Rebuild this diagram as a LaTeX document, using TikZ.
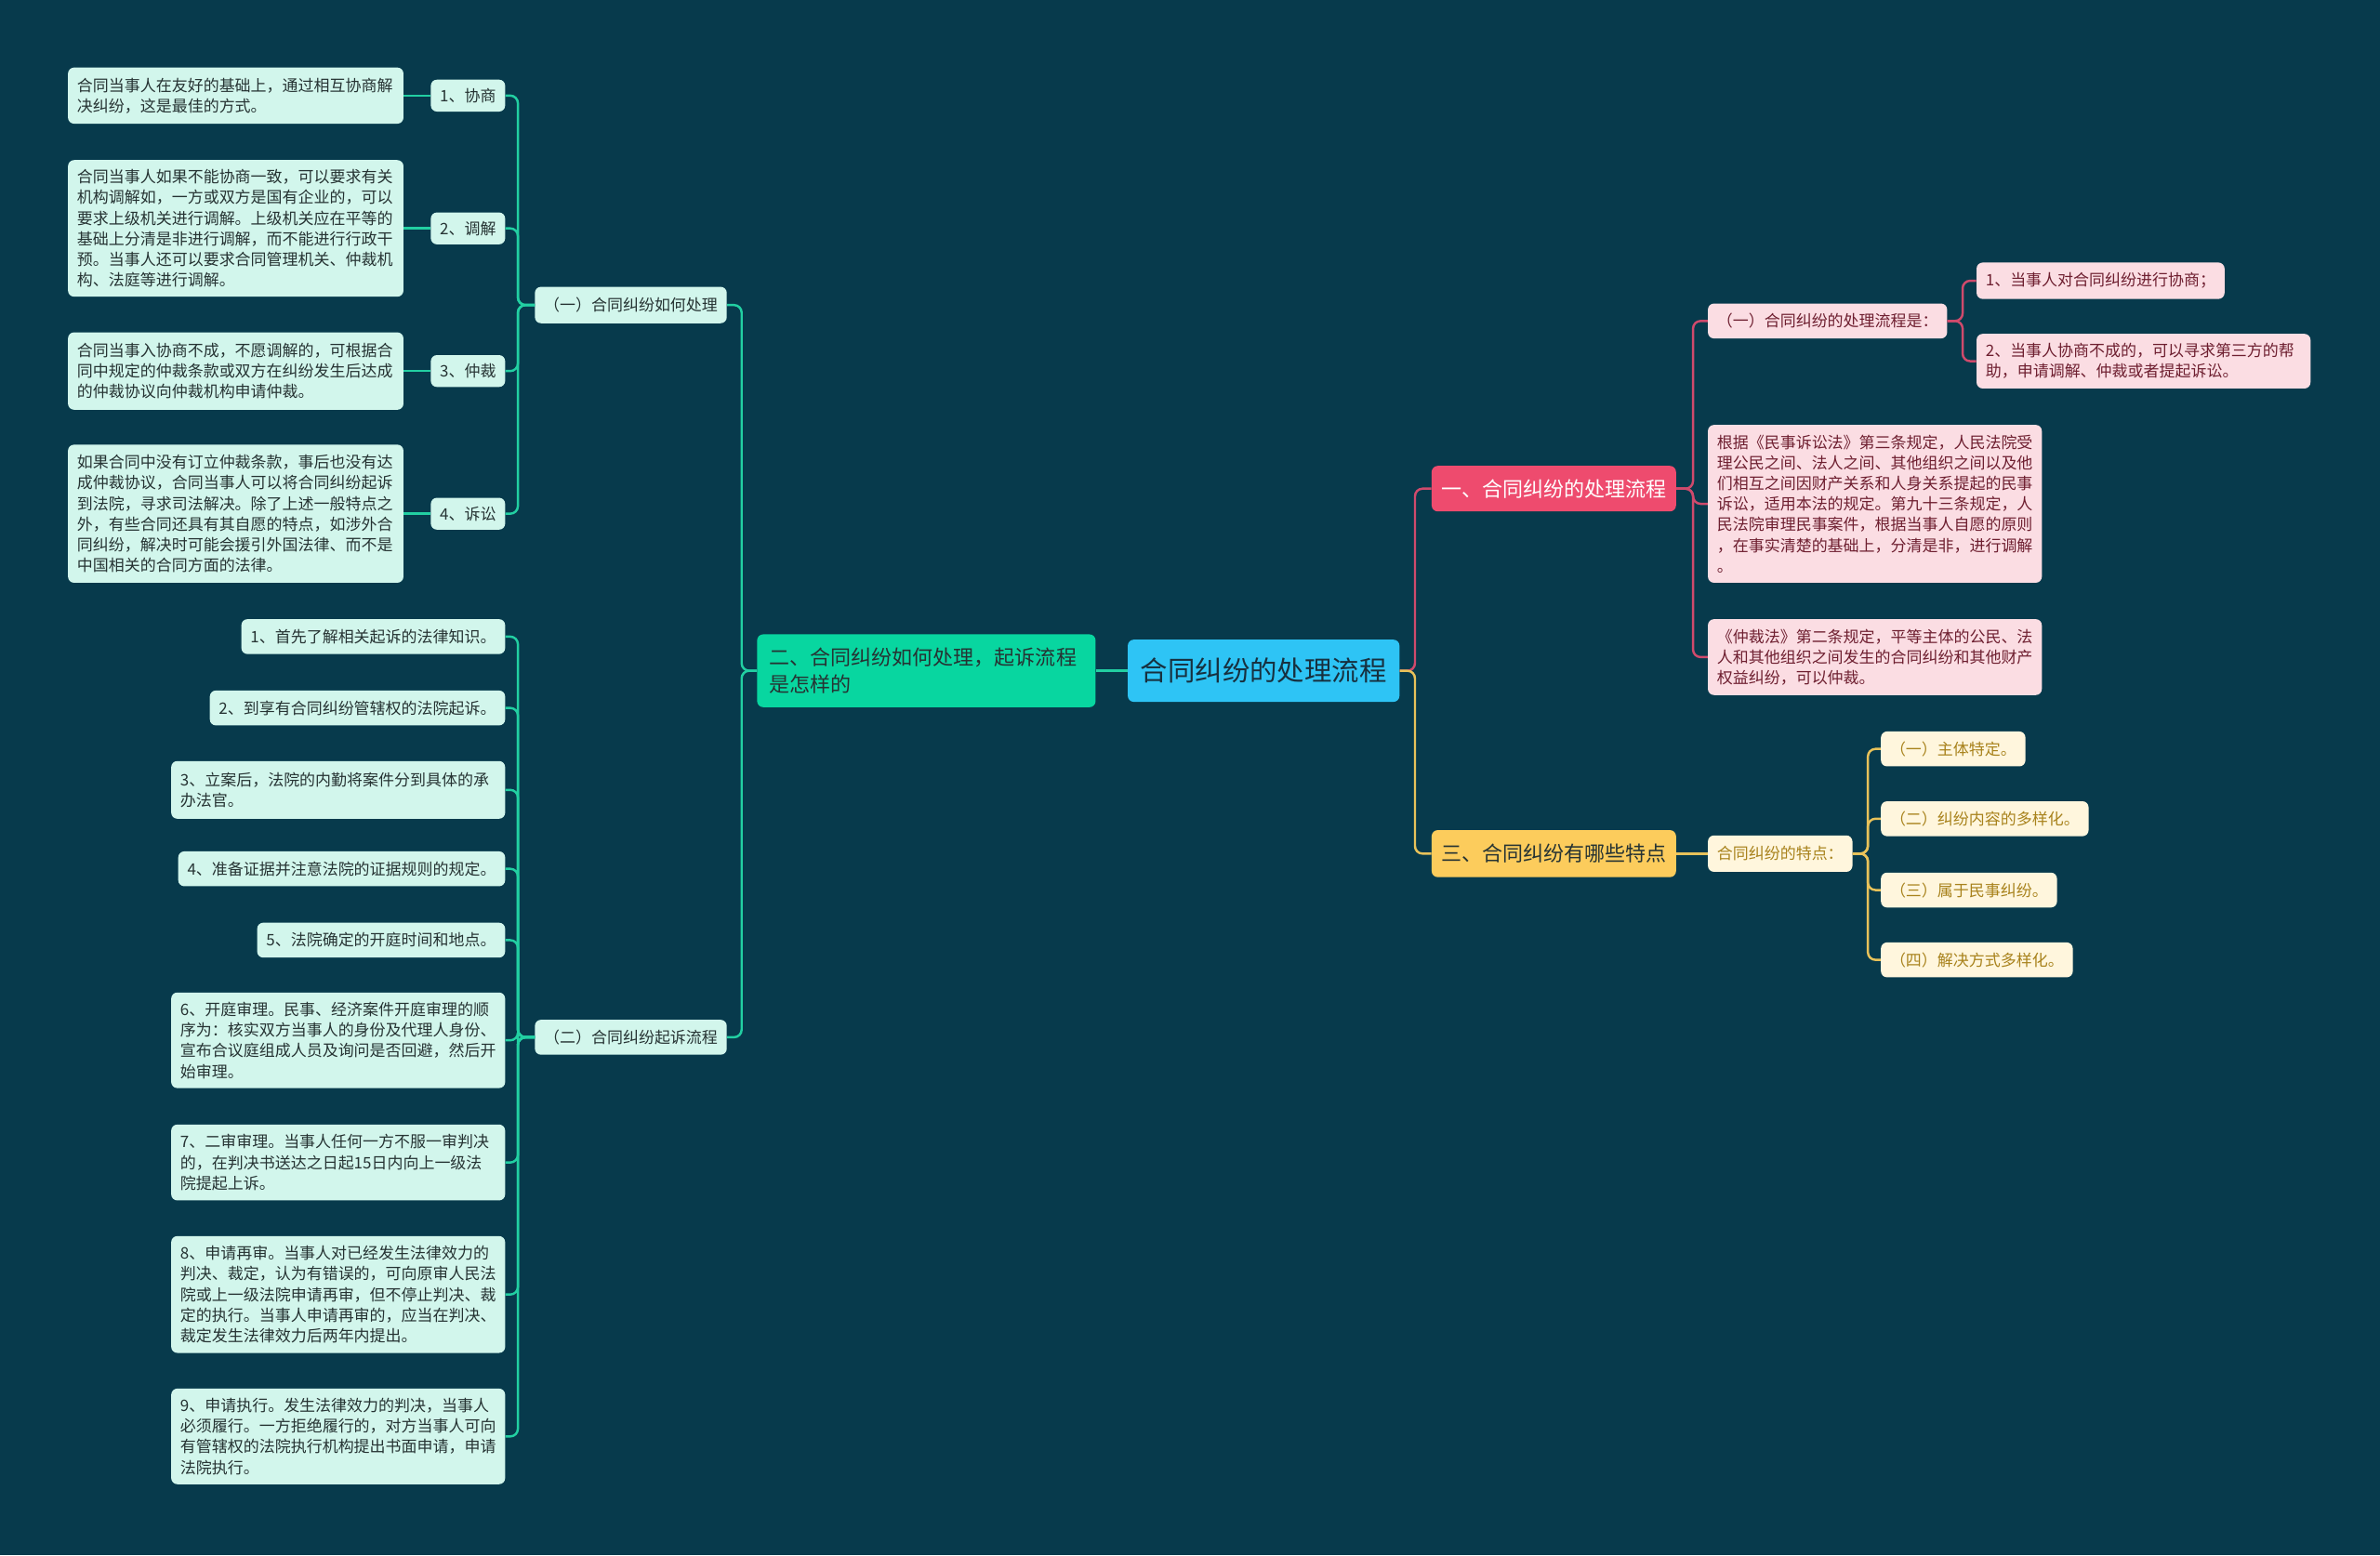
\documentclass[tikz,border=0pt]{standalone}
\usepackage{fontspec}
\setmainfont{Noto Sans CJK SC}
\definecolor{bg}{HTML}{073A4C}
\definecolor{gl}{HTML}{22CFA2}
\definecolor{mint}{HTML}{D2F6EC}
\definecolor{gtext}{HTML}{263333}
\definecolor{gbranch}{HTML}{08D6A0}
\definecolor{cfill}{HTML}{2EC4F5}
\definecolor{ctext}{HTML}{17303F}
\definecolor{pbranch}{HTML}{EE4B6E}
\definecolor{pl}{HTML}{D04A6C}
\definecolor{pinkl}{HTML}{FBDDE3}
\definecolor{ptext}{HTML}{6E1F30}
\definecolor{ybranch}{HTML}{FCCC5C}
\definecolor{yl}{HTML}{E8C25A}
\definecolor{cream}{HTML}{FFF6DD}
\definecolor{ytext}{HTML}{A8821C}
\tikzset{
  base/.style={rounded corners=4pt, inner xsep=6pt, inner ysep=0pt, align=left},
  smallfont/.style={font=\fontsize{10.4}{13.6}\selectfont},
  gleaf/.style={base, smallfont, fill=mint, text=gtext},
  pleaf/.style={base, smallfont, fill=pinkl, text=ptext},
  yleaf/.style={base, smallfont, fill=cream, text=ytext},
  gline/.style={draw=gl, line width=1.5pt, rounded corners=5pt},
  pline/.style={draw=pl, line width=1.5pt, rounded corners=5pt},
  yline/.style={draw=yl, line width=1.5pt, rounded corners=5pt},
}
\begin{document}
\begin{tikzpicture}[x=1pt,y=-1pt]
\fill[bg] (0,0) rectangle (1568,1025);
\useasboundingbox (0,0) rectangle (1568,1025);

% centre
\node[base, fill=cfill, text=ctext, font=\fontsize{18}{22}\selectfont, minimum width=179pt, minimum height=41pt, align=center] (c) at (832.5,442) {合同纠纷的处理流程};

% branch two (left, green)
\node[base, fill=gbranch, text=gtext, font=\fontsize{13.5}{18}\selectfont, text width=207pt, inner xsep=8pt, minimum height=48pt, anchor=east] (b2) at (722,442) {二、合同纠纷如何处理，起诉流程\\是怎样的};

\node[gleaf, minimum width=125pt, minimum height=24pt, anchor=east, align=center] (g1) at (479,201) {（一）合同纠纷如何处理};
\node[gleaf, minimum width=125pt, minimum height=23pt, anchor=east, align=center] (g2) at (479,683.5) {（二）合同纠纷起诉流程};

% labels under g1
\node[gleaf, minimum width=47pt, minimum height=21pt, anchor=east, align=center] (lab1) at (333,63) {1、协商};
\node[gleaf, minimum width=47pt, minimum height=21pt, anchor=east, align=center] (lab2) at (333,150.5) {2、调解};
\node[gleaf, minimum width=47pt, minimum height=21pt, anchor=east, align=center] (lab3) at (333,244.5) {3、仲裁};
\node[gleaf, minimum width=47pt, minimum height=21pt, anchor=east, align=center] (lab4) at (333,338.5) {4、诉讼};

% leaves under labels
\node[gleaf, text width=209pt, minimum height=37pt, anchor=east] (leaf1) at (266,63) {合同当事人在友好的基础上，通过相互协商解\\决纠纷，这是最佳的方式。};
\node[gleaf, text width=209pt, minimum height=90pt, anchor=east] (leaf2) at (266,150.5) {合同当事人如果不能协商一致，可以要求有关\\机构调解如，一方或双方是国有企业的，可以\\要求上级机关进行调解。上级机关应在平等的\\基础上分清是非进行调解，而不能进行行政干\\预。当事人还可以要求合同管理机关、仲裁机\\构、法庭等进行调解。};
\node[gleaf, text width=209pt, minimum height=51pt, anchor=east] (leaf3) at (266,244.5) {合同当事入协商不成，不愿调解的，可根据合\\同中规定的仲裁条款或双方在纠纷发生后达成\\的仲裁协议向仲裁机构申请仲裁。};
\node[gleaf, text width=209pt, minimum height=91pt, anchor=east] (leaf4) at (266,338.5) {如果合同中没有订立仲裁条款，事后也没有达\\成仲裁协议，合同当事人可以将合同纠纷起诉\\到法院，寻求司法解决。除了上述一般特点之\\外，有些合同还具有其自愿的特点，如涉外合\\同纠纷，解决时可能会援引外国法律、而不是\\中国相关的合同方面的法律。};

% leaves under g2
\node[gleaf, minimum width=173pt, minimum height=23pt, anchor=east, align=center] (s1) at (333,419.5) {1、首先了解相关起诉的法律知识。};
\node[gleaf, minimum width=194pt, minimum height=23pt, anchor=east, align=center] (s2) at (333,466.5) {2、到享有合同纠纷管辖权的法院起诉。};
\node[gleaf, text width=208pt, minimum height=38pt, anchor=east] (s3) at (333,520.5) {3、立案后，法院的内勤将案件分到具体的承\\办法官。};
\node[gleaf, minimum width=215pt, minimum height=23pt, anchor=east, align=center] (s4) at (333,572.5) {4、准备证据并注意法院的证据规则的规定。};
\node[gleaf, minimum width=163pt, minimum height=23pt, anchor=east, align=center] (s5) at (333,619.5) {5、法院确定的开庭时间和地点。};
\node[gleaf, text width=208pt, minimum height=63pt, anchor=east] (s6) at (333,685.5) {6、开庭审理。民事、经济案件开庭审理的顺\\序为：核实双方当事人的身份及代理人身份、\\宣布合议庭组成人员及询问是否回避，然后开\\始审理。};
\node[gleaf, text width=208pt, minimum height=50pt, anchor=east] (s7) at (333,766) {7、二审审理。当事人任何一方不服一审判决\\的，在判决书送达之日起15日内向上一级法\\院提起上诉。};
\node[gleaf, text width=208pt, minimum height=77pt, anchor=east] (s8) at (333,853) {8、申请再审。当事人对已经发生法律效力的\\判决、裁定，认为有错误的，可向原审人民法\\院或上一级法院申请再审，但不停止判决、裁\\定的执行。当事人申请再审的，应当在判决、\\裁定发生法律效力后两年内提出。};
\node[gleaf, text width=208pt, minimum height=63pt, anchor=east] (s9) at (333,946.5) {9、申请执行。发生法律效力的判决，当事人\\必须履行。一方拒绝履行的，对方当事人可向\\有管辖权的法院执行机构提出书面申请，申请\\法院执行。};

% branch one (right, pink)
\node[base, fill=pbranch, text=white, font=\fontsize{13.5}{18}\selectfont, minimum width=161pt, minimum height=30pt, anchor=west, align=center] (b1) at (943,322) {一、合同纠纷的处理流程};
\node[pleaf, minimum width=157pt, minimum height=23pt, anchor=west, align=center] (p0) at (1125,211.5) {（一）合同纠纷的处理流程是：};
\node[pleaf, text width=208pt, minimum height=104pt, anchor=west] (pbig) at (1125,332) {根据《民事诉讼法》第三条规定，人民法院受\\理公民之间、法人之间、其他组织之间以及他\\们相互之间因财产关系和人身关系提起的民事\\诉讼，适用本法的规定。第九十三条规定，人\\民法院审理民事案件，根据当事人自愿的原则\\，在事实清楚的基础上，分清是非，进行调解\\。};
\node[pleaf, text width=208pt, minimum height=50pt, anchor=west] (pzc) at (1125,433) {《仲裁法》第二条规定，平等主体的公民、法\\人和其他组织之间发生的合同纠纷和其他财产\\权益纠纷，可以仲裁。};
\node[pleaf, minimum width=163pt, minimum height=24pt, anchor=west, align=center] (pa) at (1302,185) {1、当事人对合同纠纷进行协商；};
\node[pleaf, text width=208pt, minimum height=36pt, anchor=west] (pb) at (1302,238) {2、当事人协商不成的，可以寻求第三方的帮\\助，申请调解、仲裁或者提起诉讼。};

% branch three (right, yellow)
\node[base, fill=ybranch, text=gtext, font=\fontsize{13.5}{18}\selectfont, minimum width=161pt, minimum height=31pt, anchor=west, align=center] (b3) at (943,562.5) {三、合同纠纷有哪些特点};
\node[yleaf, minimum width=94pt, minimum height=24pt, anchor=west, align=center] (t) at (1125,562.5) {合同纠纷的特点：};
\node[yleaf, minimum width=94pt, minimum height=23pt, anchor=west, align=center] (t1) at (1239,493.5) {（一）主体特定。};
\node[yleaf, minimum width=136pt, minimum height=23pt, anchor=west, align=center] (t2) at (1239,539.5) {（二）纠纷内容的多样化。};
\node[yleaf, minimum width=115pt, minimum height=23pt, anchor=west, align=center] (t3) at (1239,586.5) {（三）属于民事纠纷。};
\node[yleaf, minimum width=125pt, minimum height=23pt, anchor=west, align=center] (t4) at (1239,632.5) {（四）解决方式多样化。};

% connectors
\draw[gline] (c.west) -- (b2.east);
\draw[gline] (b2.west) -- ++(-10,0) |- (g1.east);
\draw[gline] (b2.west) -- ++(-10,0) |- (g2.east);
\foreach \n in {lab1,lab2,lab3,lab4} \draw[gline] (g1.west) -- ++(-11,0) |- (\n.east);
\draw[gline] (lab1.west) -- (leaf1.east);
\draw[gline] (lab2.west) -- (leaf2.east);
\draw[gline] (lab3.west) -- (leaf3.east);
\draw[gline] (lab4.west) -- (leaf4.east);
\foreach \n in {s1,s2,s3,s4,s5,s6,s7,s8,s9} \draw[gline] (g2.west) -- ++(-11,0) |- (\n.east);

\draw[pline] (c.east) -- ++(10,0) |- (b1.west);
\draw[yline] (c.east) -- ++(10,0) |- (b3.west);
\foreach \n in {p0,pbig,pzc} \draw[pline] (b1.east) -- ++(11,0) |- (\n.west);
\foreach \n in {pa,pb} \draw[pline] (p0.east) -- ++(10,0) |- (\n.west);
\draw[yline] (b3.east) -- (t.west);
\foreach \n in {t1,t2,t3,t4} \draw[yline] (t.east) -- ++(10,0) |- (\n.west);
\end{tikzpicture}
\end{document}
